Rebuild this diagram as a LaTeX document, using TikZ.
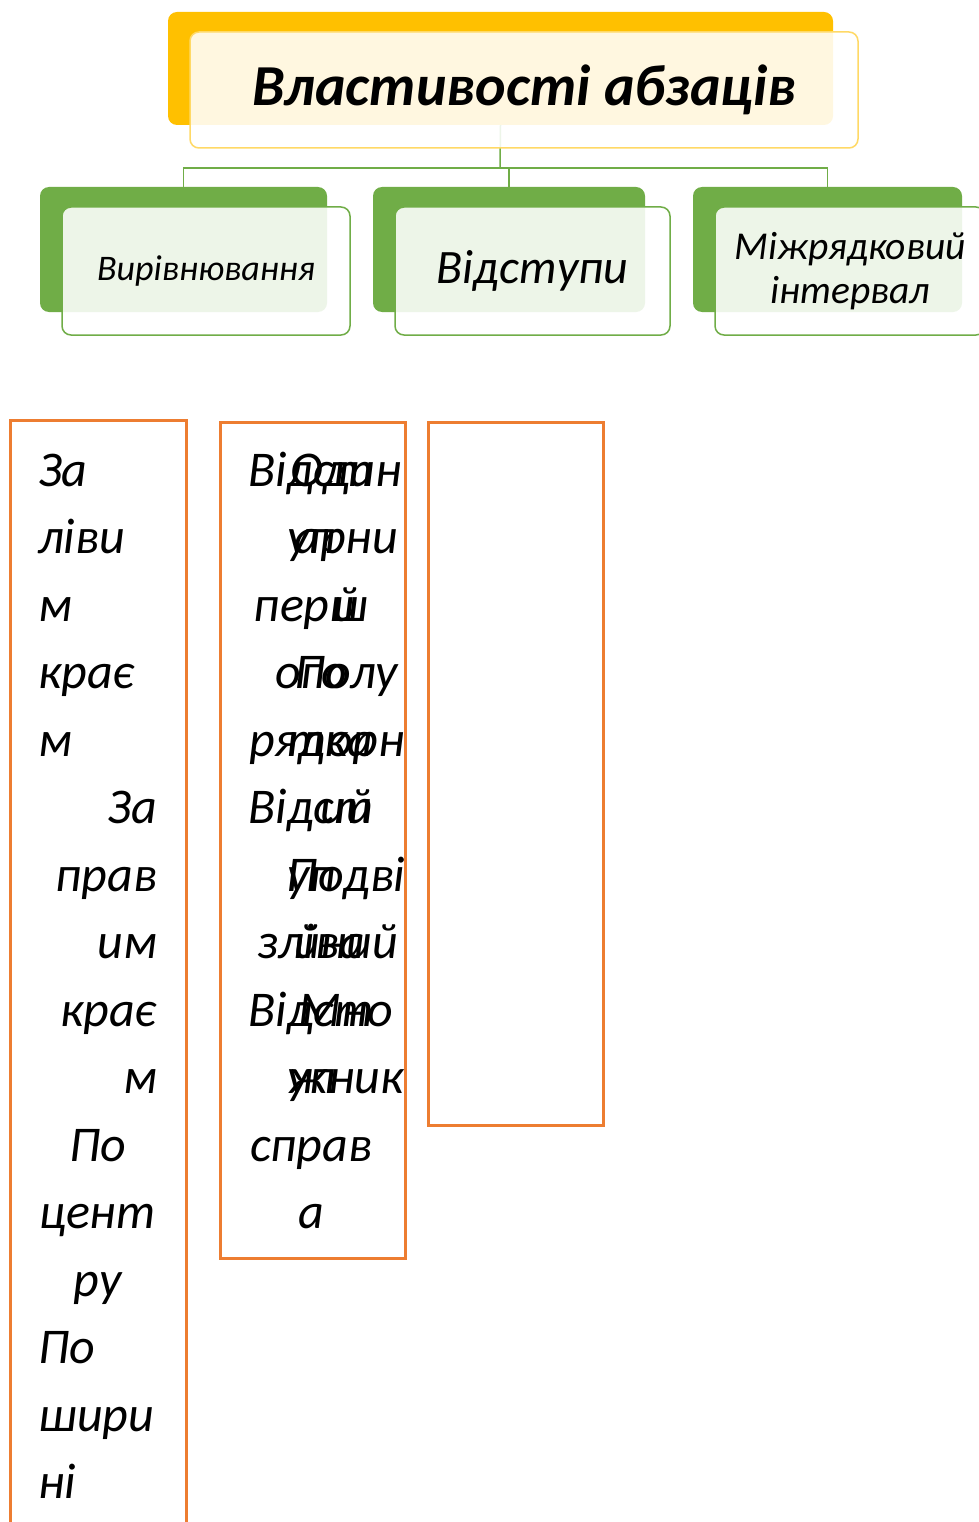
\documentclass[tikz,border=0pt]{standalone}
\usepackage{fontspec}
\setmainfont{Carlito}
\usetikzlibrary{calc}
\usetikzlibrary{positioning}

\definecolor{goldback}{HTML}{FFC000}
\definecolor{goldline}{HTML}{FFD966}
\definecolor{leafgreen}{HTML}{70AD47}
\definecolor{frameorange}{HTML}{ED7D31}

\begin{document}
\begin{tikzpicture}[x=1pt, y=-1pt,
  back/.style={rounded corners=9pt, inner sep=0pt},
  front/.style={rounded corners=9pt, inner sep=0pt, fill=white, fill opacity=0.88, text opacity=1, line width=1.5pt},
  column/.style={draw=frameorange, line width=3pt, inner sep=0pt},
  columntext/.style={inner sep=0pt, anchor=base west, font=\fontsize{50}{67.5}\selectfont\itshape}
]
  \useasboundingbox [fill=white] (0,0) rectangle (978,1522);

  % back plates
  \node [back, fill=goldback, minimum width=665pt, minimum height=113pt] (titleback) at (500.5,68.5) {};
  \node [back, fill=leafgreen, minimum width=287pt, minimum height=125pt] (alignback) at (183.5,249.5) {};
  \node [back, fill=leafgreen, minimum width=272pt, minimum height=125pt] (indentback) at (509,249.5) {};
  \node [back, fill=leafgreen, minimum width=269pt, minimum height=125pt] (spacingback) at (827.5,249.5) {};

  % connectors
  \coordinate (rail) at (500,168);
  \draw [leafgreen, line width=1.5pt] (titleback.south) -- (rail);
  \draw [leafgreen, line width=1.5pt] (alignback.north) |- (rail) -| (spacingback.north);
  \draw [leafgreen, line width=1.5pt] (indentback.north) -- (indentback.north |- rail);

  % front plates
  \node [front, draw=goldline, minimum width=668pt, minimum height=116pt,
         font=\fontsize{58}{64}\selectfont\bfseries\itshape] (title) at (524,90) {Властивості абзаців};
  \node [front, draw=leafgreen, minimum width=288pt, minimum height=128pt,
         font=\fontsize{36}{40}\selectfont\itshape] (align) at (206,271) {Вирівнювання};
  \node [front, draw=leafgreen, minimum width=275pt, minimum height=128pt,
         font=\fontsize{48}{50}\selectfont\itshape] (indent) at (532.5,271) {Відступи};
  \node [front, draw=leafgreen, minimum width=270pt, minimum height=128pt, align=center,
         font=\fontsize{39.5}{44}\selectfont\itshape] (spacing) at (850,271) {Міжрядковий\\інтервал};

  % orange columns
  \node [column, minimum width=176pt, minimum height=1120pt] (alignframe) at (98,980) {};
  \node [column, minimum width=185pt, minimum height=836pt] (indentframe) at (312.5,840) {};
  \node [column, minimum width=175pt, minimum height=703pt] (spacingframe) at (515.5,773.5) {};

  \node [columntext, text width=119pt] (aligntext) at (38,486)
    {\parindent=0pt\raggedright За\\ліви\\м\\крає\\м\par
     \raggedleft За\\прав\\им\\крає\\м\par
     \centering По\\цент\\ру\par
     \raggedright По\\шири\\ні\par};
  \node [columntext, text width=140pt, align=center] (indenttext) at (241,486)
    {Відст\\уп\\перш\\ого\\рядка\\Відст\\уп\\зліва\\Відст\\уп\\справ\\а};
  \node [columntext, text width=130pt, align=center] (linetext) at (281,486)
    {Один\\арни\\й\\Полу\\торн\\ий\\Подві\\йний\\Мно\\жник};
\end{tikzpicture}
\end{document}
